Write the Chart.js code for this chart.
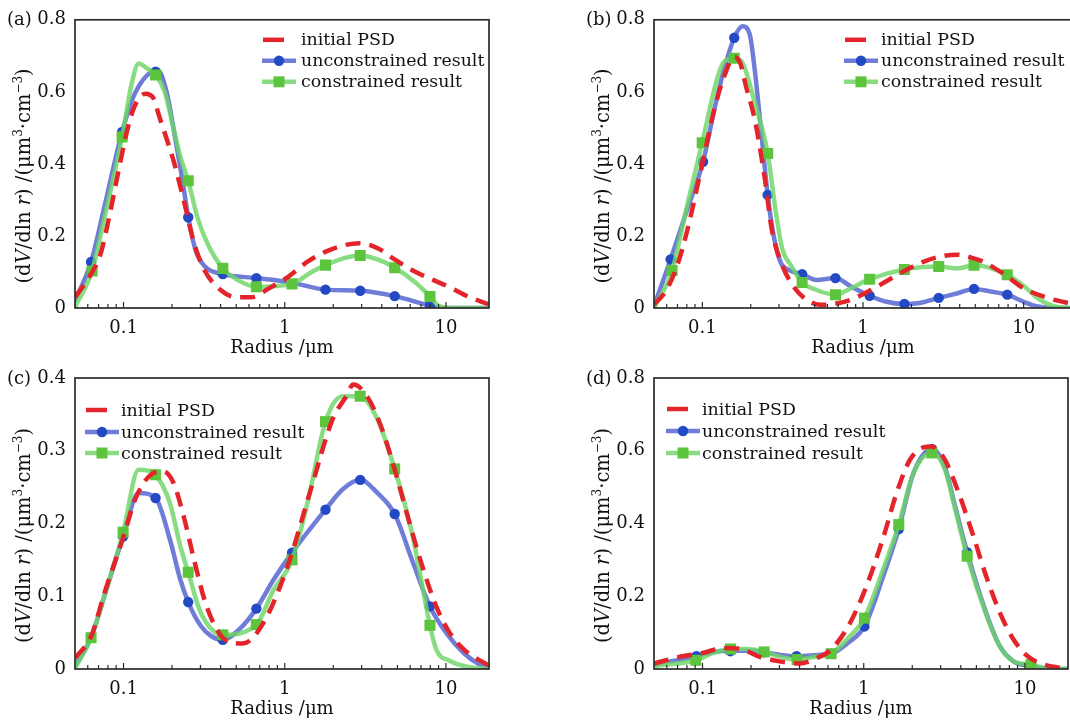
<!DOCTYPE html>
<html><head><meta charset="utf-8">
<script src="https://cdn.jsdelivr.net/npm/chart.js@4.4.1/dist/chart.umd.min.js"></script>
<style>
html,body{margin:0;padding:0;background:#fff;width:1070px;height:725px;overflow:hidden;position:relative;}
canvas{position:absolute;left:0;top:0;}
</style></head><body>
<canvas id="ca" width="1080" height="725"></canvas>
<canvas id="cb" width="1080" height="725"></canvas>
<canvas id="cc" width="1080" height="725"></canvas>
<canvas id="cd" width="1080" height="725"></canvas>
<script>
// ---------- ticks & labels ----------
const xTickValues = [0.1, 1, 10];
const xTickLabels = ['0.1', '1', '10'];
const xMinorTicks = [0.06,0.07,0.08,0.09,0.2,0.3,0.4,0.5,0.6,0.7,0.8,0.9,2,3,4,5,6,7,8,9];
const yTicks08 = [0, 0.2, 0.4, 0.6, 0.8];
const yLabels08 = ['0', '0.2', '0.4', '0.6', '0.8'];
const yTicks04 = [0, 0.1, 0.2, 0.3, 0.4];
const yLabels04 = ['0', '0.1', '0.2', '0.3', '0.4'];
const seriesNames = ['initial PSD', 'unconstrained result', 'constrained result'];
const panelLabels = ['(a)', '(b)', '(c)', '(d)'];
const xTitle = 'Radius /\u03bcm';

// ---------- panel (a) ----------
const aInitial = [[0.05,0.03],[0.062,0.09],[0.072,0.15],[0.083,0.27],[0.093,0.38],[0.105,0.49],[0.117,0.56],[0.137,0.595],[0.152,0.585],[0.167,0.53],[0.185,0.47],[0.204,0.41],[0.236,0.30],[0.274,0.18],[0.318,0.105],[0.4,0.05],[0.5,0.03],[0.62,0.03],[0.8,0.055],[1.04,0.085],[1.4,0.13],[2,0.165],[2.9,0.18],[3.8,0.165],[4.8,0.135],[6.5,0.10],[10.5,0.058],[14,0.03],[18.5,0.01]];
const aUnconLine = [[0.05,0.02],[0.0629,0.128],[0.076,0.28],[0.098,0.489],[0.118,0.597],[0.163,0.66],[0.185,0.6],[0.204,0.5],[0.231,0.36],[0.252,0.252],[0.28,0.16],[0.32,0.115],[0.413,0.094],[0.667,0.083],[1.09,0.071],[1.79,0.051],[2.94,0.048],[4.81,0.033],[7.96,0.007],[9.6,0],[18.5,0]];
const aUnconMarks = [[0.0629,0.128],[0.098,0.489],[0.158,0.656],[0.252,0.252],[0.413,0.094],[0.667,0.083],[1.79,0.051],[2.94,0.048],[4.81,0.033],[7.96,0.007]];
const aConLine = [[0.05,0.003],[0.0638,0.103],[0.076,0.25],[0.098,0.475],[0.112,0.62],[0.124,0.679],[0.14,0.665],[0.158,0.647],[0.18,0.6],[0.204,0.5],[0.225,0.42],[0.252,0.353],[0.288,0.25],[0.334,0.176],[0.413,0.11],[0.52,0.076],[0.667,0.059],[1.11,0.067],[1.47,0.1],[1.79,0.119],[2.4,0.14],[2.94,0.146],[3.76,0.135],[4.81,0.112],[6.5,0.07],[7.96,0.032],[9.1,0.005],[11,0],[18.5,0]];
const aConMarks = [[0.0638,0.103],[0.098,0.475],[0.158,0.647],[0.252,0.353],[0.413,0.11],[0.667,0.059],[1.11,0.067],[1.79,0.119],[2.94,0.146],[4.81,0.112],[7.96,0.032]];

// ---------- panel (b) ----------
const bInitial = [[0.05,0.01],[0.059,0.046],[0.07,0.12],[0.081,0.22],[0.101,0.41],[0.12,0.56],[0.136,0.64],[0.158,0.697],[0.172,0.68],[0.187,0.615],[0.212,0.523],[0.245,0.358],[0.27,0.22],[0.314,0.119],[0.364,0.064],[0.42,0.032],[0.54,0.009],[0.66,0.011],[0.84,0.023],[1.08,0.046],[1.38,0.073],[1.76,0.10],[2.37,0.128],[3.2,0.145],[3.9,0.148],[4.72,0.14],[5.5,0.13],[7.5,0.095],[10,0.055],[15.4,0.023],[20,0.012]];
const bUnconLine = [[0.05,0.005],[0.0634,0.135],[0.08,0.27],[0.101,0.406],[0.12,0.56],[0.136,0.66],[0.158,0.75],[0.178,0.782],[0.197,0.76],[0.212,0.66],[0.234,0.477],[0.255,0.314],[0.278,0.2],[0.306,0.128],[0.347,0.105],[0.418,0.094],[0.514,0.078],[0.674,0.083],[0.84,0.06],[1.1,0.034],[1.38,0.018],[1.81,0.011],[2.25,0.014],[2.96,0.028],[3.88,0.041],[4.91,0.053],[6.2,0.046],[7.91,0.037],[9.9,0.018],[12,0.005],[15.4,0],[20,0]];
const bUnconMarks = [[0.0634,0.135],[0.101,0.406],[0.158,0.75],[0.255,0.314],[0.418,0.094],[0.674,0.083],[1.1,0.034],[1.81,0.011],[2.96,0.028],[4.91,0.053],[7.91,0.037]];
const bConLine = [[0.05,0],[0.0648,0.104],[0.08,0.28],[0.0998,0.459],[0.123,0.633],[0.136,0.683],[0.158,0.693],[0.178,0.68],[0.212,0.57],[0.255,0.429],[0.285,0.275],[0.314,0.165],[0.355,0.119],[0.418,0.071],[0.514,0.05],[0.674,0.037],[0.84,0.055],[1.1,0.08],[1.81,0.107],[2.96,0.115],[3.9,0.11],[4.91,0.119],[7.91,0.092],[10.4,0.055],[12.6,0.023],[15.4,0.005],[20,0]];
const bConMarks = [[0.0648,0.104],[0.0998,0.459],[0.158,0.693],[0.255,0.429],[0.418,0.071],[0.674,0.037],[1.1,0.08],[1.81,0.107],[2.96,0.115],[4.91,0.119],[7.91,0.092]];

// ---------- panel (c) ----------
const cInitial = [[0.05,0.015],[0.063,0.045],[0.076,0.104],[0.1,0.182],[0.118,0.233],[0.144,0.265],[0.176,0.272],[0.204,0.256],[0.236,0.21],[0.274,0.15],[0.318,0.095],[0.369,0.059],[0.428,0.04],[0.547,0.035],[0.736,0.063],[1.04,0.141],[1.47,0.251],[1.98,0.343],[2.41,0.375],[2.66,0.391],[3.24,0.375],[3.95,0.334],[4.81,0.274],[5.87,0.205],[7.14,0.141],[8.71,0.086],[10.6,0.049],[12.9,0.027],[17.4,0.008],[18.5,0.005]];
const cUnconLine = [[0.05,0.004],[0.0629,0.043],[0.076,0.1],[0.0994,0.182],[0.124,0.242],[0.158,0.235],[0.194,0.178],[0.225,0.123],[0.252,0.092],[0.302,0.059],[0.351,0.045],[0.413,0.04],[0.52,0.054],[0.667,0.083],[0.854,0.123],[1.11,0.16],[1.79,0.219],[2.29,0.247],[2.94,0.26],[3.76,0.242],[4.81,0.213],[6.16,0.15],[7.96,0.086],[10.1,0.049],[12.9,0.022],[15.7,0.008],[18.5,0.002]];
const cUnconMarks = [[0.0994,0.182],[0.158,0.235],[0.252,0.092],[0.413,0.040],[0.667,0.083],[1.11,0.160],[1.79,0.219],[2.94,0.260],[4.81,0.213],[7.96,0.086]];
const cConLine = [[0.05,0.001],[0.0629,0.043],[0.076,0.1],[0.0994,0.188],[0.124,0.274],[0.14,0.273],[0.158,0.267],[0.194,0.228],[0.225,0.169],[0.252,0.133],[0.302,0.077],[0.413,0.047],[0.667,0.061],[0.854,0.109],[1.11,0.150],[1.4,0.233],[1.79,0.34],[2.29,0.375],[2.94,0.375],[3.76,0.343],[4.81,0.275],[6.16,0.187],[7.14,0.114],[7.96,0.06],[8.7,0.027],[10.6,0.011],[13,0.004],[18.5,0]];
const cConMarks = [[0.0629,0.043],[0.0994,0.188],[0.158,0.267],[0.252,0.133],[0.413,0.047],[0.667,0.061],[1.11,0.150],[1.79,0.340],[2.94,0.375],[4.81,0.275],[7.96,0.060]];

// ---------- panel (d) ----------
const dInitial = [[0.05,0.015],[0.075,0.035],[0.1,0.044],[0.136,0.058],[0.174,0.055],[0.222,0.035],[0.3,0.021],[0.4,0.015],[0.51,0.03],[0.626,0.053],[0.8,0.117],[1.02,0.218],[1.31,0.356],[1.6,0.484],[1.94,0.576],[2.37,0.61],[2.61,0.612],[3.18,0.576],[3.88,0.484],[4.72,0.374],[5.75,0.255],[7,0.154],[8.5,0.081],[10.4,0.035],[12.6,0.015],[16.9,0.003],[18.5,0.002]];
const dUnconLine = [[0.05,0.012],[0.0917,0.035],[0.118,0.047],[0.149,0.05],[0.19,0.05],[0.241,0.046],[0.3,0.039],[0.383,0.035],[0.49,0.038],[0.627,0.042],[0.8,0.072],[1.01,0.117],[1.31,0.25],[1.65,0.385],[2.04,0.54],[2.65,0.605],[3.18,0.557],[3.69,0.447],[4.38,0.321],[5.75,0.154],[7,0.062],[8.5,0.021],[10.9,0.008],[14,0.001],[18.5,0]];
const dUnconMarks = [[0.0917,0.035],[0.149,0.049],[0.241,0.046],[0.383,0.035],[0.627,0.042],[1.01,0.117],[1.65,0.385],[2.65,0.605],[4.38,0.321],[10.9,0.010]];
const dConLine = [[0.05,0.008],[0.0909,0.024],[0.118,0.045],[0.149,0.055],[0.19,0.055],[0.241,0.047],[0.3,0.034],[0.386,0.026],[0.49,0.033],[0.627,0.042],[0.8,0.085],[1.01,0.14],[1.31,0.27],[1.65,0.397],[2.04,0.54],[2.65,0.594],[3.18,0.55],[3.69,0.44],[4.38,0.31],[5.75,0.15],[7,0.062],[8.5,0.021],[10.9,0.012],[14,0.001],[18.5,0]];
const dConMarks = [[0.0909,0.024],[0.149,0.055],[0.241,0.047],[0.386,0.026],[0.627,0.042],[1.01,0.140],[1.65,0.397],[2.65,0.594],[4.38,0.310],[10.9,0.012]];

// ---------- styles ----------
const FONT = '"DejaVu Serif", "Liberation Serif", serif';
const FS = 18;
const LFS = 17.4;
const TXT = '#111111';
const RED = '#e3252b';
const BLUE_LINE = 'rgba(70,88,205,0.78)';
const BLUE_MARK = '#2349c4';
const GREEN_LINE = 'rgba(110,214,104,0.82)';
const GREEN_MARK = '#5dc43e';

const toXY = arr => arr.map(p => ({x: p[0], y: p[1]}));

function drawYTitle(ctx, cx, cy) {
  const F = 19.5;
  const parts = [['(d','n'],['V','i'],['/dln ','n'],['r','i'],[') /(\u03bcm','n'],['3','s'],['\u00b7cm','n'],['\u22123','s'],[')','n']];
  const fontOf = t => t === 'i' ? `italic ${F}px ${FONT}` : (t === 's' ? `${Math.round(F*0.6)}px ${FONT}` : `${F}px ${FONT}`);
  let total = 0;
  for (const [s,t] of parts) { ctx.font = fontOf(t); total += ctx.measureText(s).width; }
  ctx.save();
  ctx.translate(cx, cy);
  ctx.rotate(-Math.PI/2);
  ctx.fillStyle = TXT;
  ctx.textBaseline = 'alphabetic';
  ctx.textAlign = 'left';
  let x = -total/2;
  for (const [s,t] of parts) {
    ctx.font = fontOf(t);
    ctx.fillText(s, x, t === 's' ? F*0.35 - F*0.42 : F*0.35);
    x += ctx.measureText(s).width;
  }
  ctx.restore();
}

const deco = {
  id: 'deco',
  afterDatasetsDraw(chart) {
    const o = chart.options.plugins.deco;
    const {ctx, chartArea: a} = chart;
    const x = chart.scales.x;
    ctx.save();
    // frame
    ctx.strokeStyle = '#2b2b2b';
    ctx.lineWidth = 1.7;
    ctx.strokeRect(a.left, a.top, a.right - a.left, a.bottom - a.top);
    // inward ticks on x axis
    ctx.lineWidth = 1.2;
    ctx.beginPath();
    for (const v of xMinorTicks) { const px = x.getPixelForValue(v); ctx.moveTo(px, a.bottom); ctx.lineTo(px, a.bottom - 4); }
    for (const v of xTickValues) { const px = x.getPixelForValue(v); ctx.moveTo(px, a.bottom); ctx.lineTo(px, a.bottom - 6); }
    ctx.stroke();
    // panel label
    ctx.fillStyle = TXT;
    ctx.font = `${FS}px ${FONT}`;
    ctx.textBaseline = 'middle';
    ctx.textAlign = 'left';
    ctx.fillText(o.label, a.left - 68, a.top + 1);
    // y title
    drawYTitle(ctx, a.left - 52, (a.top + a.bottom)/2 + 12);
    // legend
    const L = o.legend;
    for (let i = 0; i < 3; i++) {
      const y = a.top + L.rows[i];
      const sx = a.left + L.sx;
      if (i === 0) {
        ctx.strokeStyle = RED; ctx.lineWidth = 4.5; ctx.setLineDash([]);
        ctx.beginPath(); ctx.moveTo(sx + 1, y); ctx.lineTo(sx + 22, y); ctx.stroke();
      } else if (i === 1) {
        ctx.strokeStyle = BLUE_LINE; ctx.lineWidth = 4.5;
        ctx.beginPath(); ctx.moveTo(sx, y); ctx.lineTo(sx + 34, y); ctx.stroke();
        ctx.fillStyle = BLUE_MARK; ctx.beginPath(); ctx.arc(sx + 17, y, 5.2, 0, Math.PI*2); ctx.fill();
      } else {
        ctx.strokeStyle = GREEN_LINE; ctx.lineWidth = 4.5;
        ctx.beginPath(); ctx.moveTo(sx, y); ctx.lineTo(sx + 34, y); ctx.stroke();
        ctx.fillStyle = GREEN_MARK; ctx.fillRect(sx + 17 - 5.5, y - 5.5, 11, 11);
      }
      ctx.fillStyle = TXT;
      ctx.font = `${LFS}px ${FONT}`;
      ctx.textBaseline = 'middle';
      ctx.fillText(seriesNames[i], a.left + L.tx, y + 1);
    }
    ctx.restore();
  }
};

function makeChart(id, cfg) {
  const lineBase = {pointRadius: 0, fill: false, cubicInterpolationMode: 'monotone', borderCapStyle: 'round', borderJoinStyle: 'round'};
  new Chart(document.getElementById(id), {
    type: 'line',
    data: { datasets: [
      Object.assign({label: seriesNames[0], data: toXY(cfg.red), borderColor: RED, borderWidth: 4.5, borderDash: [15, 9], order: 0}, lineBase, {borderCapStyle: 'butt'}),
      {label: seriesNames[2] + ' markers', data: toXY(cfg.conM), showLine: false, pointStyle: 'rect', pointRadius: 7.8, pointBackgroundColor: GREEN_MARK, pointBorderWidth: 0, order: 1},
      Object.assign({label: seriesNames[2], data: toXY(cfg.conL), borderColor: GREEN_LINE, borderWidth: 4.5, order: 2}, lineBase),
      {label: seriesNames[1] + ' markers', data: toXY(cfg.unM), showLine: false, pointStyle: 'circle', pointRadius: 5.2, pointBackgroundColor: BLUE_MARK, pointBorderWidth: 0, order: 3},
      Object.assign({label: seriesNames[1], data: toXY(cfg.unL), borderColor: BLUE_LINE, borderWidth: 4.5, order: 4}, lineBase)
    ]},
    options: {
      responsive: false, animation: false, events: [],
      layout: {padding: cfg.pad},
      scales: {
        x: {
          type: 'logarithmic', min: 0.05, max: cfg.xmax,
          afterBuildTicks: s => { s.ticks = xTickValues.map(v => ({value: v})); },
          afterFit: s => { s.height = 54; },
          ticks: {callback: (v, i) => xTickLabels[i], font: {family: FONT, size: FS}, color: TXT, padding: 10, maxRotation: 0, autoSkip: false},
          grid: {display: false, drawTicks: false}, border: {display: false},
          title: {display: true, text: xTitle, font: {family: FONT, size: FS}, color: TXT, padding: {top: 0, bottom: 3}}
        },
        y: {
          min: 0, max: cfg.ymax,
          afterBuildTicks: s => { s.ticks = cfg.yt.map(v => ({value: v})); },
          afterFit: s => { s.width = 75; },
          ticks: {callback: (v, i) => cfg.yl[i], font: {family: FONT, size: FS}, color: TXT, padding: 9},
          grid: {display: false, drawTicks: false}, border: {display: false}
        }
      },
      plugins: {legend: {display: false}, tooltip: {enabled: false}, deco: {label: cfg.label, legend: cfg.legend}}
    },
    plugins: [deco]
  });
}

makeChart('ca', {label: panelLabels[0], red: aInitial, unL: aUnconLine, unM: aUnconMarks, conL: aConLine, conM: aConMarks,
  xmax: 18.5, ymax: 0.8, yt: yTicks08, yl: yLabels08, pad: {left: 0, right: 591, top: 17, bottom: 363},
  legend: {sx: 187, tx: 226, rows: [20, 41, 62]}});
makeChart('cb', {label: panelLabels[1], red: bInitial, unL: bUnconLine, unM: bUnconMarks, conL: bConLine, conM: bConMarks,
  xmax: 20, ymax: 0.8, yt: yTicks08, yl: yLabels08, pad: {left: 579, right: 8, top: 17, bottom: 363},
  legend: {sx: 190, tx: 227, rows: [20, 41, 62]}});
makeChart('cc', {label: panelLabels[2], red: cInitial, unL: cUnconLine, unM: cUnconMarks, conL: cConLine, conM: cConMarks,
  xmax: 18.5, ymax: 0.4, yt: yTicks04, yl: yLabels04, pad: {left: 0, right: 591, top: 378, bottom: 2},
  legend: {sx: 10, tx: 46, rows: [32, 54, 75]}});
makeChart('cd', {label: panelLabels[3], red: dInitial, unL: dUnconLine, unM: dUnconMarks, conL: dConLine, conM: dConMarks,
  xmax: 18.5, ymax: 0.8, yt: yTicks08, yl: yLabels08, pad: {left: 579, right: 12, top: 378, bottom: 2},
  legend: {sx: 12, tx: 48, rows: [31, 53, 75]}});
</script>
</body></html>
